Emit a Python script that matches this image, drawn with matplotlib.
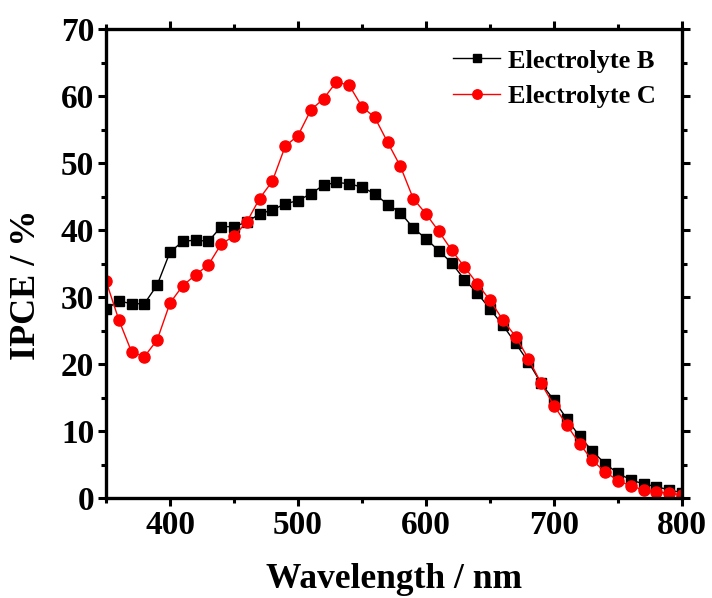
import matplotlib
matplotlib.use("Agg")
import matplotlib.pyplot as plt
from matplotlib.ticker import MultipleLocator

plt.rcParams['font.family'] = ['Liberation Serif', 'DejaVu Serif']
plt.rcParams['font.weight'] = 'bold'

wavelength = list(range(350, 801, 10))

ipce_b = [28.2, 29.4, 29.0, 29.0, 31.8, 36.7, 38.3, 38.5, 38.3, 40.5,
          40.5, 41.2, 42.4, 43.0, 43.9, 44.4, 45.4, 46.7, 47.1, 46.9,
          46.4, 45.4, 43.8, 42.6, 40.3, 38.7, 36.9, 35.1, 32.6, 30.6,
          28.2, 25.8, 23.1, 20.3, 17.1, 14.6, 11.8, 9.2, 7.0, 5.1,
          3.7, 2.7, 2.1, 1.7, 1.2, 0.8]

ipce_c = [32.4, 26.6, 21.8, 21.1, 23.6, 29.1, 31.7, 33.3, 34.8, 37.9,
          39.1, 41.2, 44.7, 47.3, 52.5, 54.1, 57.9, 59.6, 62.1, 61.6,
          58.4, 56.8, 53.1, 49.5, 44.7, 42.4, 39.8, 37.0, 34.5, 32.0,
          29.5, 26.6, 24.1, 20.8, 17.1, 13.8, 10.9, 8.1, 5.6, 3.9,
          2.6, 1.8, 1.2, 0.9, 0.7, 0.5]

fig = plt.figure(figsize=(7.12, 5.98), dpi=100)
# plot area in pixels: x 106..682, y 29..498
ax = fig.add_axes([106 / 712, 1 - 498 / 598, 576 / 712, 469 / 598])

ax.plot(wavelength, ipce_b, color="black", lw=1, marker="s", ms=6.5,
        label="Electrolyte B")
ax.plot(wavelength, ipce_c, color="red", lw=1, marker="o", ms=8,
        label="Electrolyte C")

ax.set_xlim(350, 800)
ax.set_ylim(0, 70)
ax.xaxis.set_major_locator(MultipleLocator(100))
ax.xaxis.set_minor_locator(MultipleLocator(50))
ax.yaxis.set_major_locator(MultipleLocator(10))
ax.yaxis.set_minor_locator(MultipleLocator(5))

for s in ax.spines.values():
    s.set_linewidth(2.4)
ax.tick_params(which="both", direction="out", width=2.2, top=True, right=True,
               labelsize=24, pad=3)
ax.tick_params(which="major", length=5.5)
ax.tick_params(which="minor", length=3.5)

ax.set_xlabel("Wavelength / nm", fontsize=25.5, fontweight="bold")
ax.set_ylabel("IPCE / %", fontsize=26, fontweight="bold")
ax.xaxis.set_label_coords(0.5, -0.139)
ax.yaxis.set_label_coords(-0.11, 0.454)

leg = ax.legend(loc="upper left", bbox_to_anchor=(0.602, 0.957), frameon=False,
                fontsize=19, numpoints=1, handlelength=1.8, handletextpad=0.3,
                labelspacing=0.46, borderpad=0, borderaxespad=0, markerscale=0.85)
for t in leg.get_texts():
    t.set_fontweight("bold")

fig.savefig("out.png", dpi=100)
